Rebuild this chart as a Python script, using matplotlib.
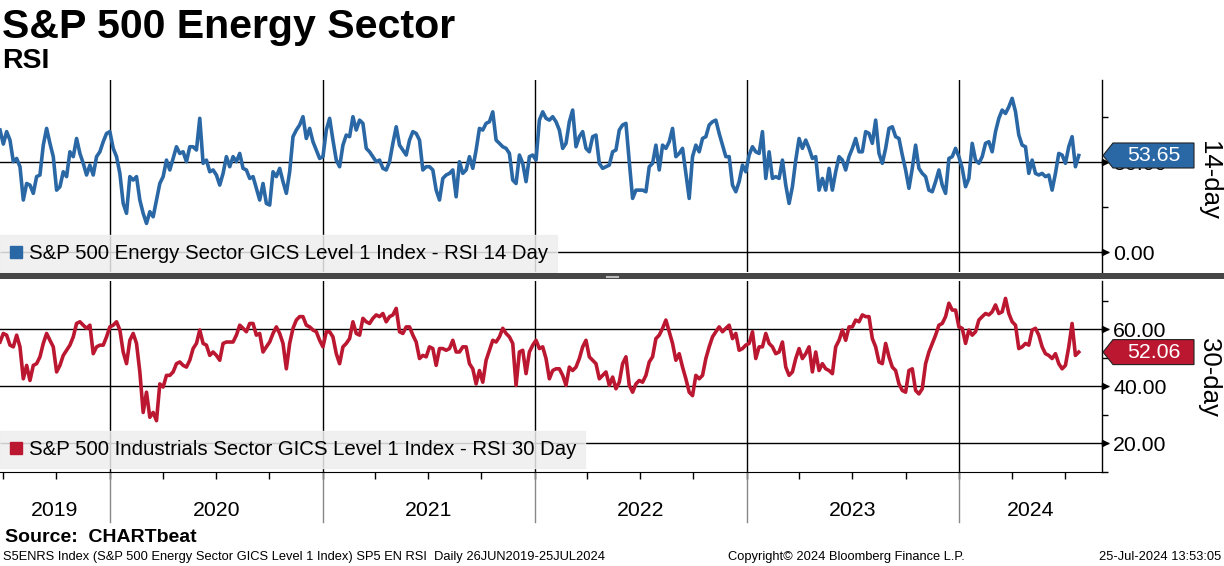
import numpy as np
import pandas as pd
import matplotlib
matplotlib.use("Agg")
import matplotlib.pyplot as plt
import matplotlib.dates as mdates
import matplotlib.transforms as mtrans
from matplotlib.patches import Polygon, Rectangle
from matplotlib.lines import Line2D

plt.rcParams['font.family'] = ['Liberation Sans', 'DejaVu Sans']

# ---------------- data ----------------
start_date = '2019-06-26'
end_date = '2024-07-25'
axis_end = '2024-09-03'

rsi14 = [
    67.8, 60.0, 66.9, 62.2, 50.2, 52.0, 47.4, 28.9, 38.1, 37.2,
    32.6, 41.9, 42.8, 59.4, 68.7, 60.4, 53.0, 34.4, 36.3, 44.6,
    41.9, 55.7, 53.0, 63.1, 54.8, 49.3, 42.8, 48.3, 42.8, 53.0,
    55.7, 61.3, 65.9, 66.9, 57.6, 53.0, 43.7, 27.0, 21.5, 41.9,
    40.0, 41.9, 28.9, 21.5, 15.9, 22.4, 19.6, 28.9, 38.1, 41.9,
    51.1, 45.6, 52.0, 58.5, 54.8, 55.7, 50.2, 58.5, 58.5, 56.7,
    74.3, 49.3, 51.1, 44.6, 45.6, 42.8, 37.2, 43.7, 53.0, 47.4,
    53.0, 50.2, 54.8, 46.5, 45.6, 40.9, 41.9, 35.4, 28.9, 38.1,
    27.0, 26.1, 44.6, 41.9, 46.5, 39.1, 32.6, 44.6, 64.1, 67.8,
    70.6, 75.2, 63.1, 68.7, 61.3, 56.7, 52.0, 53.0, 67.8, 74.3,
    62.2, 51.1, 47.4, 59.4, 65.0, 64.1, 75.2, 67.8,
    73.3, 71.5, 57.6, 55.7, 53.0, 50.2, 51.1, 46.5, 45.6, 50.2,
    60.4, 69.6, 59.4, 56.7, 53.9, 62.2, 66.9, 65.9, 62.2, 45.6,
    47.4, 47.4, 45.6, 34.4, 28.9, 40.9, 42.8, 43.7, 45.6, 30.7,
    50.2, 43.7, 45.6, 53.0, 46.5, 56.7, 68.7, 67.8, 71.5, 72.4,
    77.9, 62.2, 60.4, 58.5, 57.6, 54.8, 40.0, 38.1, 53.9, 49.3,
    39.1, 53.0, 53.9, 51.1, 73.3, 77.9, 74.3, 73.3, 75.2, 72.4,
    67.8, 57.6, 60.4, 72.4, 78.9, 58.5, 64.1, 66.9, 57.6, 55.7,
    64.1, 65.0, 49.3, 46.5, 47.4, 48.3, 55.7, 56.7, 67.8, 70.6,
    71.5, 50.2, 29.8, 34.4, 34.4, 34.4, 33.5, 47.4, 49.3, 59.4,
    45.6, 59.4, 57.6, 61.3, 68.7, 53.0, 54.8, 57.6, 43.7, 29.8,
    53.0, 59.4, 55.7, 63.1, 64.1, 70.6, 72.4, 73.3,
    65.9, 59.4, 53.0, 53.0, 37.2, 33.5, 39.1, 48.3, 44.6, 53.9,
    58.5, 55.7, 54.8, 66.9, 40.9, 55.7, 40.9, 41.9, 40.9, 51.1,
    37.2, 27.0, 36.3, 51.1, 63.1, 57.6, 62.2, 57.6, 52.0, 53.0,
    34.4, 40.9, 34.4, 46.5, 34.4, 44.6, 53.0, 51.1, 45.6, 53.0,
    57.6, 63.1, 55.7, 55.7, 66.9, 65.9, 60.4, 73.3, 54.8, 49.3,
    57.6, 68.7, 69.6, 64.1, 63.1, 53.9, 45.6, 35.4, 46.5, 59.4,
    46.5, 43.7, 41.9, 34.4, 33.5, 39.1, 45.6, 37.2, 32.6, 52.0,
    53.0, 57.6, 53.0, 46.5, 36.3, 40.9, 60.4, 51.1, 49.3, 53.0,
    60.4, 61.3, 55.7, 66.9, 74.3, 78.9, 77.0, 80.7, 85.4, 78.0,
    65.0, 59.4, 58.5, 43.7, 51.1, 43.7, 42.8, 43.7, 41.9, 42.8,
    34.4, 43.7, 54.8, 53.9, 49.3, 58.5, 64.1, 47.4,
    53.65,
]

rsi30 = [
    55.6, 58.6, 58.0, 54.5, 53.9, 58.0, 53.9, 42.7, 47.4, 42.1,
    47.4, 48.0, 50.4, 55.1, 58.6, 56.2, 53.9, 45.1, 47.4, 50.9,
    52.7, 54.5, 57.4, 62.1, 62.7, 61.5, 60.4, 61.5, 51.5, 53.9,
    54.5, 54.5, 57.4, 60.9, 61.5, 62.7, 59.8, 52.1, 48.0, 56.2,
    58.6, 55.1, 45.1, 30.9, 38.0, 29.2, 30.9, 28.0, 40.9, 39.8,
    43.9, 43.9, 45.1, 48.0, 48.6, 47.4, 46.8, 49.2, 53.3, 55.1,
    59.8, 55.1, 54.5, 50.9, 52.1, 50.9, 49.2, 55.1, 55.6, 55.6,
    55.6, 58.0, 61.5, 60.4, 59.2, 62.1, 62.1, 58.0, 58.6, 52.1,
    53.9, 55.6, 58.6, 60.9, 58.6, 55.1, 46.2, 55.1, 60.4, 63.3,
    64.5, 64.5, 61.5, 60.9, 59.8, 59.2, 56.2, 53.9, 59.2, 59.2,
    57.4, 51.5, 48.0, 53.9, 55.1, 56.8, 62.7, 58.6,
    58.0, 63.9, 62.7, 62.1, 63.9, 65.1, 64.5, 65.6, 62.7, 64.5,
    65.1, 67.4, 59.2, 58.6, 60.9, 60.9, 58.0, 55.6, 49.8, 50.9,
    50.4, 53.9, 53.3, 47.4, 53.3, 53.3, 52.7, 53.3, 56.2, 52.1,
    52.1, 53.9, 53.9, 48.0, 46.2, 40.9, 45.6, 41.5, 49.2, 52.7,
    56.2, 55.6, 57.4, 60.4, 58.6, 57.4, 55.1, 40.4, 52.1, 52.7,
    44.5, 52.1, 54.5, 56.2, 53.3, 53.9, 49.8, 42.7, 45.6, 46.2,
    46.2, 43.9, 40.4, 46.8, 45.6, 46.8, 49.8, 53.9, 56.2, 50.4,
    49.2, 48.0, 42.7, 43.9, 45.1, 40.4, 43.3, 39.2, 41.5, 48.0,
    50.4, 40.4, 38.0, 40.9, 42.1, 41.5, 43.9, 48.6, 50.4, 56.8,
    58.0, 60.4, 63.3, 59.2, 55.1, 49.2, 51.5, 46.8, 42.7, 38.0,
    36.8, 43.9, 42.7, 43.9, 49.8, 53.9, 57.4, 59.2,
    60.9, 59.2, 60.4, 61.5, 56.8, 58.6, 52.7, 53.3, 54.5, 55.1,
    59.2, 49.8, 53.9, 53.9, 58.6, 55.1, 53.9, 51.5, 52.1, 55.6,
    46.8, 43.9, 45.1, 49.8, 53.3, 49.8, 51.5, 53.9, 45.1, 52.1,
    45.6, 48.0, 46.2, 45.6, 44.5, 53.9, 56.2, 59.8, 56.2, 60.9,
    60.9, 63.3, 62.7, 65.1, 64.5, 64.5, 56.8, 53.9, 48.6, 48.0,
    55.1, 50.4, 46.8, 45.6, 40.9, 38.6, 38.0, 45.6, 46.2, 38.6,
    37.4, 39.2, 48.0, 52.1, 55.1, 58.0, 61.5, 62.1, 64.5, 69.2,
    66.8, 66.8, 60.9, 60.4, 55.1, 59.8, 58.0, 59.2, 63.3, 64.5,
    65.6, 65.1, 66.2, 68.6, 65.6, 66.2, 70.9, 65.6, 62.7, 61.5,
    53.3, 53.9, 55.1, 54.5, 59.8, 60.4, 58.0, 53.9, 51.5, 50.9,
    49.8, 51.5, 48.0, 46.2, 47.4, 53.9, 62.1, 50.9,
    52.06,
]

top_ticks = [0, 50]
top_minor = [25, 75]
bot_ticks = [20, 40, 60]
bot_minor = [10, 30, 50, 70]
years = [2019, 2020, 2021, 2022, 2023, 2024]

legend14 = 'S&P 500 Energy Sector GICS Level 1 Index - RSI 14 Day'
legend30 = 'S&P 500 Industrials Sector GICS Level 1 Index - RSI 30 Day'

BLUE = '#2a67a5'
RED = '#bb1731'

dates14 = pd.date_range(start_date, end_date, periods=len(rsi14))
dates30 = pd.date_range(start_date, end_date, periods=len(rsi30))

# ---------------- layout ----------------
W, H = 1224, 566
fig = plt.figure(figsize=(W / 100, H / 100), dpi=100)


def fx(px):
    return px / W


def fy(py):
    return 1 - py / H


AX_R = 1102
T_TOP, T_BOT = 80, 272
B_TOP, B_BOT = 281, 472
ax1 = fig.add_axes([0, fy(T_BOT), fx(AX_R), (T_BOT - T_TOP) / H])
ax2 = fig.add_axes([0, fy(B_BOT), fx(AX_R), (B_BOT - B_TOP) / H])

xmin = pd.Timestamp(start_date)
xmax = pd.Timestamp(axis_end)

ax1.set_ylim(-11.1, 95.6)
ax2.set_ylim(10, 77.0)

for ax in (ax1, ax2):
    ax.set_xlim(xmin, xmax)
    ax.set_facecolor('none')
    for s in ('top', 'left'):
        ax.spines[s].set_visible(False)
    ax.spines['right'].set_color('black')
    ax.spines['right'].set_linewidth(1.0)
    ax.yaxis.tick_right()
    ax.xaxis.set_major_locator(mdates.YearLocator())
    ax.xaxis.set_minor_locator(mdates.MonthLocator(bymonth=[1, 4, 7, 10]))
    ax.xaxis.set_major_formatter(plt.NullFormatter())
    ax.grid(True, which='major', axis='both', color='black', lw=1.0)
    ax.set_axisbelow(True)
    ax.tick_params(axis='y', which='major', direction='out', length=5,
                   width=1, pad=3, labelsize=15.3, colors='black')
    ax.tick_params(axis='y', which='minor', direction='out', length=4, width=1)

ax1.spines['bottom'].set_visible(False)
ax1.tick_params(axis='x', which='both', length=0)
ax2.spines['bottom'].set_color('black')
ax2.tick_params(axis='x', which='both', direction='out', length=5, width=1)

ax1.set_yticks(top_ticks)
ax1.set_yticklabels([f'{v:.2f}' for v in top_ticks])
ax1.set_yticks(top_minor, minor=True)
ax2.set_yticks(bot_ticks)
ax2.set_yticklabels([f'{v:.2f}' for v in bot_ticks])
ax2.set_yticks(bot_minor, minor=True)

ax1.plot(dates14, rsi14, color=BLUE, lw=2.6, solid_joinstyle='round', zorder=3)
ax2.plot(dates30, rsi30, color=RED, lw=2.6, solid_joinstyle='round', zorder=3)

# arrow heads on right axis for labelled ticks
for ax, ticks in ((ax1, top_ticks), (ax2, bot_ticks)):
    tr = mtrans.offset_copy(ax.get_yaxis_transform(), fig=fig, x=3, y=0, units='dots')
    ax.plot([1.0] * len(ticks), ticks, ls='none', marker='>', ms=5,
            color='black', transform=tr, clip_on=False, zorder=5)

# legends
for ax, label, col, anchor in ((ax1, legend14, BLUE, (0, 0)),
                               (ax2, legend30, RED, (0, 4 / (B_BOT - B_TOP)))):
    h = Line2D([], [], marker='s', color=col, ls='none', ms=9)
    lg = ax.legend([h], [label], loc='lower left', bbox_to_anchor=anchor,
                   borderaxespad=0, fontsize=14.7, frameon=True, fancybox=False,
                   facecolor='#eeeeee', edgecolor='#eeeeee', framealpha=0.85,
                   handlelength=0.7, handletextpad=0.25, borderpad=0.45)
    lg.set_zorder(10)

# year separators below axis and year labels
ymin_ext = -(522 - B_BOT) / (B_BOT - B_TOP)
for y in years[1:]:
    ax2.axvline(pd.Timestamp(f'{y}-01-01'), ymin=ymin_ext, ymax=0,
                color='#888888', lw=1, clip_on=False)
for y in years:
    a = max(pd.Timestamp(f'{y}-01-01'), xmin)
    b = min(pd.Timestamp(f'{y + 1}-01-01'), xmax)
    mid = a + (b - a) / 2
    ax2.text(mid, -(511 - B_BOT) / (B_BOT - B_TOP), str(y),
             transform=ax2.get_xaxis_transform(), ha='center', va='center',
             fontsize=15.3)

# separator bar
fig.add_artist(Rectangle((0, fy(279)), 1, 6 / H, transform=fig.transFigure,
                         facecolor='#464646', edgecolor='none'))
fig.add_artist(Line2D([fx(606), fx(618)], [fy(275.5), fy(275.5)],
                      transform=fig.transFigure, color='#bbbbbb', lw=0.8))
fig.add_artist(Line2D([fx(606), fx(618)], [fy(277.5), fy(277.5)],
                      transform=fig.transFigure, color='#bbbbbb', lw=0.8))

# value tags
fig.canvas.draw()
ident = mtrans.IdentityTransform()
for ax, val, col in ((ax1, rsi14[-1], BLUE), (ax2, rsi30[-1], RED)):
    xs = ax.transAxes.transform((1, 0))[0] + 1
    yv = ax.transData.transform((0, val))[1]
    hh = 12.5
    verts = [(xs, yv), (xs + 10, yv + hh), (xs + 91, yv + hh),
             (xs + 91, yv - hh), (xs + 10, yv - hh)]
    fig.add_artist(Polygon(verts, closed=True, transform=ident,
                           facecolor=col, edgecolor='#222222', lw=0.8, zorder=20))
    fig.add_artist(plt.Text(xs + 51, yv, f'{val:.2f}', transform=ident,
                            ha='center', va='center', color='white',
                            fontsize=15.3, zorder=21))

# side labels
fig.text(fx(1209), fy(180), '14-day', rotation=270, ha='center', va='center', fontsize=18.5)
fig.text(fx(1209), fy(377), '30-day', rotation=270, ha='center', va='center', fontsize=18.5)

# titles
fig.text(fx(2), fy(37.5), 'S&P 500 Energy Sector', fontsize=29.6, weight='bold',
         ha='left', va='baseline')
fig.text(fx(2), fy(68.5), 'RSI', fontsize=20.5, weight='bold', ha='left', va='baseline')

# footer
fig.text(fx(5), fy(537), 'Source:  CHARTbeat', fontsize=14, weight='bold',
         ha='left', va='center')
fig.text(fx(3), fy(557), 'S5ENRS Index (S&P 500 Energy Sector GICS Level 1 Index) SP5 EN RSI  Daily 26JUN2019-25JUL2024',
         fontsize=9.3, ha='left', va='center')
fig.text(fx(846), fy(557), 'Copyright\u00a9 2024 Bloomberg Finance L.P.',
         fontsize=9.3, ha='center', va='center')
fig.text(fx(1221), fy(557), '25-Jul-2024 13:53:05', fontsize=9.3, ha='right', va='center')

fig.savefig('out.png', dpi=100)
